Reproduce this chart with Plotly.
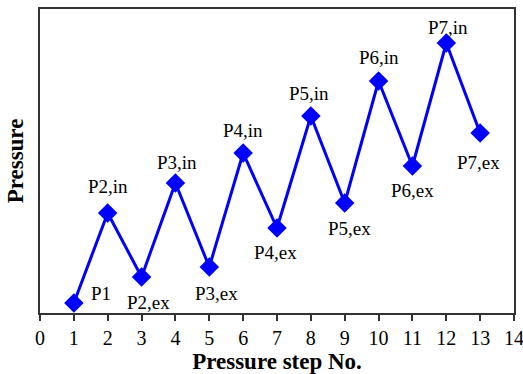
import plotly.graph_objects as go

steps = [1, 2, 3, 4, 5, 6, 7, 8, 9, 10, 11, 12, 13]
pressure = [10, 100, 36, 130, 46, 160, 85, 197, 110, 232, 147, 270, 180]
labels = ["P1", "P2,in", "P2,ex", "P3,in", "P3,ex", "P4,in", "P4,ex",
          "P5,in", "P5,ex", "P6,in", "P6,ex", "P7,in", "P7,ex"]
# label offsets (in data units) relative to each point
label_dx = [0.8, 0.0, 0.2, 0.05, 0.2, 0.0, -0.05, -0.05, 0.15, 0.0, 0.0, 0.05, -0.05]
label_dy = [10, 27, -25, 21, -26, 23, -24, 23, -25, 24, -24, 16, -29]
xticks = list(range(0, 15))

fig = go.Figure()
fig.add_trace(go.Scatter(
    x=steps, y=pressure, mode="lines+markers",
    line=dict(color="#0000FF", width=3),
    marker=dict(symbol="diamond", size=15, color="#0000FF"),
    showlegend=False, cliponaxis=False,
))
for x, y, t, dx, dy in zip(steps, pressure, labels, label_dx, label_dy):
    fig.add_annotation(x=x + dx, y=y + dy, text=t, showarrow=False,
                       font=dict(family="Liberation Serif", size=19, color="black"))

fig.update_layout(
    width=523, height=374,
    margin=dict(l=40, r=9, t=9, b=61),
    paper_bgcolor="white", plot_bgcolor="white",
    font=dict(family="Liberation Serif", size=20, color="black"),
    xaxis=dict(range=[0, 14], tickvals=xticks, ticktext=[str(v) for v in xticks],
               showgrid=False, zeroline=False, showline=True, linecolor="#333",
               linewidth=1.5, mirror=True, ticks="outside", ticklen=6,
               tickcolor="#333", tickwidth=1.5, automargin=False,
               tickfont=dict(size=20), ticklabeloverflow="allow",
               title=dict(text="<b>Pressure step No.</b>", font=dict(size=23), standoff=6)),
    yaxis=dict(range=[0, 304], showticklabels=False, showgrid=False, zeroline=False,
               showline=True, linecolor="#333", linewidth=1.5, mirror=True, ticks="",
               automargin=False,
               title=dict(text="<b>Pressure</b>", font=dict(size=23), standoff=8)),
)
fig.write_html("out.html", config={"displayModeBar": False},
               post_script="document.body.style.margin='0';document.body.style.overflow='hidden';")
